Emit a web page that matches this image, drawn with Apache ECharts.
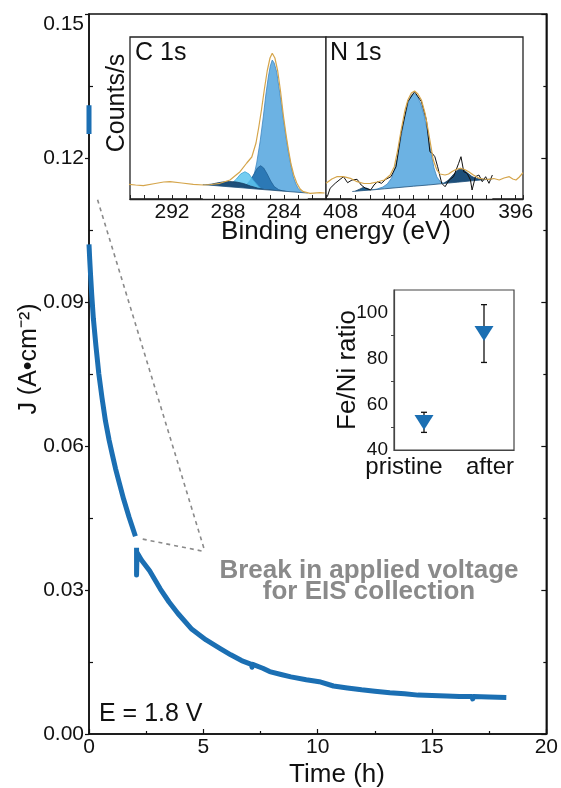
<!DOCTYPE html>
<html>
<head>
<meta charset="utf-8">
<script src="https://cdn.jsdelivr.net/npm/echarts@6/dist/echarts.min.js"></script>
<style>
  html, body { margin: 0; padding: 0; background: #fff; }
  #chart { width: 561px; height: 788px; }
</style>
</head>
<body>
<div id="chart"></div>
<script>
// ---- Chronoamperometry at E = 1.8 V ----
// initial transient recorded at t = 0
const spikeTime = [0, 0];
const spikeCurrent = [0.131, 0.125];

// current density before the EIS break (h, A/cm2)
const timeBefore = [0, 0.03, 0.07, 0.12, 0.19, 0.3, 0.43, 0.57, 0.72, 0.88, 1.02, 1.16, 1.33, 1.51, 1.75, 2.03];
const currentBefore = [0.1020, 0.0990, 0.0955, 0.0915, 0.0866, 0.0810, 0.0750, 0.0700, 0.0652, 0.0612, 0.0582, 0.0553, 0.0522, 0.0490, 0.0452, 0.0412];

// current density after the EIS break
const timeAfter = [2.08, 2.08, 2.1, 2.3, 2.65, 3.12, 3.5, 3.89, 4.5, 5.12, 5.74, 6.2, 6.67, 7.1, 7.13, 7.16, 7.6, 7.9, 8.4, 8.83, 9.5, 10.07, 10.69, 11.3, 11.92, 12.5, 13.16, 13.8, 14.39, 15.0, 15.63, 16.2, 16.75, 16.78, 16.81, 17.5, 18.25];
const currentAfter = [0.0388, 0.0331, 0.0378, 0.0362, 0.0340, 0.0302, 0.0275, 0.0251, 0.0218, 0.0196, 0.0178, 0.0165, 0.0153, 0.0145, 0.0139, 0.0145, 0.0137, 0.0130, 0.0124, 0.0119, 0.0113, 0.0109, 0.0100, 0.0096, 0.0092, 0.0089, 0.0086, 0.0084, 0.0081, 0.0080, 0.0079, 0.0078, 0.0078, 0.0073, 0.0078, 0.0077, 0.0076];

// dashed guide around the break (time h, current A/cm2)
const guideFar = [0.375, 0.1113];
const guideNear = [2.35, 0.0406];
const guideTip = [5.07, 0.038];

// ---- XPS, C 1s (binding energy eV, counts a.u.) ----
const c1sEnvEnergy = [295.1, 294.6, 294.05, 293.2, 292.6, 292.14, 291.3, 290.48, 289.76, 289.2, 288.57, 287.86, 287.14, 286.66, 286.3, 286.0, 285.8, 285.6, 285.4, 285.2, 285.0, 284.84, 284.65, 284.45, 284.25, 284.05, 283.85, 283.69, 283.5, 283.3, 283.09, 282.85, 282.62, 282.14, 281.43, 281.1];
const c1sEnvCounts = [14.7, 14.0, 13.3, 15.5, 17.0, 17.3, 16.0, 14.7, 14.0, 14.5, 15.7, 19.0, 27.3, 36.0, 42.0, 56.0, 72.0, 90.0, 110.0, 128.0, 141.0, 145.7, 141.0, 128.0, 108.0, 84.0, 64.0, 50.0, 35.0, 24.0, 16.0, 10.0, 7.3, 5.7, 6.3, 6.0];

const c1sMainEnergy = [286.9, 286.5, 286.2, 285.95, 285.7, 285.48, 285.3, 285.12, 284.98, 284.84, 284.7, 284.52, 284.29, 284.05, 283.85, 283.69, 283.5, 283.33, 283.15, 282.98, 282.74, 282.5];
const c1sMainCounts = [11.0, 13.0, 20.0, 36.0, 58.0, 82.0, 104.0, 122.0, 133.0, 139.0, 136.0, 127.0, 105.0, 80.0, 61.0, 47.0, 33.0, 22.0, 15.0, 10.5, 7.0, 6.2];

const c1sMidEnergy = [287.0, 286.7, 286.4, 286.1, 285.9, 285.67, 285.45, 285.2, 284.95, 284.7, 284.4, 284.1, 283.8];
const c1sMidCounts = [11.3, 14.0, 19.0, 26.0, 31.0, 33.3, 31.0, 25.0, 18.0, 12.5, 9.5, 8.0, 7.5];

const c1sOxEnergy = [288.0, 287.7, 287.4, 287.1, 286.79, 286.5, 286.2, 285.9, 285.6];
const c1sOxCounts = [12.4, 16.0, 20.0, 25.0, 27.3, 25.0, 19.0, 14.0, 9.8];

const c1sCarbEnergy = [289.6, 289.2, 288.8, 288.4, 287.9, 287.4, 286.9, 286.4, 285.9, 285.4, 284.9, 284.4, 283.9];
const c1sCarbCounts = [14.2, 14.8, 16.0, 17.0, 17.5, 17.0, 15.5, 13.0, 11.0, 9.5, 8.8, 8.2, 7.6];

const c1sBgEnergy = [289.8, 289.0, 288.0, 287.0, 286.0, 285.0, 284.0, 283.0, 282.3];
const c1sBgCounts = [14.4, 13.5, 12.3, 11.2, 10.0, 8.9, 7.8, 6.7, 6.0];

// ---- XPS, N 1s ----
const n1sRawEnergy = [408.91, 408.72, 408.37, 408.03, 407.8, 407.52, 407.22, 406.87, 406.59, 406.29, 405.94, 405.71, 405.47, 405.2, 404.9, 404.55, 404.2, 403.85, 403.39, 402.93, 402.46, 402.12, 401.88, 401.72, 401.54, 401.35, 401.07, 400.84, 400.56, 400.26, 399.91, 399.75, 399.56, 399.33, 399.1, 398.99, 398.76, 398.52, 398.29, 398.06, 397.83, 397.6];
const n1sRawCounts = [2.3, 10.7, 15.7, 19.7, 22.3, 16.3, 19.0, 19.7, 14.0, 10.7, 9.0, 14.0, 17.3, 15.7, 19.7, 22.3, 32.3, 65.7, 97.3, 107.3, 97.3, 79.0, 47.3, 45.7, 42.3, 32.3, 15.7, 12.3, 19.0, 22.3, 35.7, 42.3, 27.3, 25.7, 19.0, 9.0, 22.3, 24.0, 17.3, 22.3, 15.7, 24.0];

const n1sEnvEnergy = [409.0, 408.6, 408.26, 407.8, 407.33, 406.87, 406.4, 405.94, 405.5, 405.01, 404.6, 404.32, 404.1, 403.85, 403.6, 403.39, 403.15, 402.93, 402.7, 402.46, 402.2, 402.0, 401.8, 401.65, 401.4, 401.19, 400.84, 400.6, 400.38, 400.1, 399.8, 399.5, 399.22, 398.9, 398.52, 398.2, 397.83, 397.5, 397.13, 396.8, 396.44, 396.2, 395.98, 395.75, 395.5];
const n1sEnvCounts = [15.7, 20.0, 22.3, 22.3, 20.7, 17.3, 15.5, 15.7, 17.0, 19.0, 24.0, 32.3, 48.0, 69.0, 88.0, 99.0, 106.0, 108.0, 105.0, 99.0, 85.0, 69.0, 52.0, 39.0, 29.0, 25.0, 24.0, 25.0, 27.3, 29.5, 30.7, 29.5, 27.3, 24.0, 20.7, 20.0, 19.7, 20.5, 19.0, 21.0, 22.3, 20.0, 19.0, 22.0, 26.3];

const n1sMainEnergy = [405.9, 405.5, 405.1, 404.8, 404.5, 404.3, 404.1, 403.85, 403.6, 403.35, 403.15, 402.98, 402.75, 402.5, 402.25, 402.0, 401.8, 401.6, 401.4, 401.15, 400.9, 400.5];
const n1sMainCounts = [9.0, 10.0, 12.0, 15.0, 21.0, 30.0, 42.0, 62.0, 82.0, 97.0, 104.0, 105.7, 103.0, 95.0, 82.0, 64.0, 46.0, 31.0, 22.0, 17.0, 15.8, 16.3];

const n1sLowEnergy = [400.95, 400.6, 400.3, 400.0, 399.8, 399.55, 399.3, 399.0, 398.7, 398.3, 398.0];
const n1sLowCounts = [15.5, 19.0, 24.0, 28.5, 30.7, 29.0, 26.0, 22.5, 20.5, 19.8, 19.5];

const n1sHighEnergy = [407.0, 406.7, 406.45, 406.2, 405.95];
const n1sHighCounts = [7.8, 9.8, 11.5, 10.8, 9.2];

const n1sBgEnergy = [407.2, 406.4, 405.9, 405.0, 404.0, 403.0, 402.0, 401.0, 400.0, 399.0, 398.0, 397.6];
const n1sBgCounts = [7.5, 8.5, 9.0, 10.2, 11.5, 12.8, 14.0, 15.4, 16.8, 18.2, 19.5, 20.0];

// ---- Fe/Ni ratio ----
const feNiSamples = ['pristine', 'after'];
const feNiRatio = [52, 91];
const feNiLow = [47.7, 78.3];
const feNiHigh = [56.5, 103.6];

// ticks
const mainTimeTicks = { min: 0, max: 20, step: 5 };
const mainCurrentTicks = { min: 0, max: 0.15, step: 0.03 };

const FONT = 'Liberation Sans, Arial, Helvetica, sans-serif';
const BLUE = '#1b6fb3';
const INK = '#111';

const pairs = (xs, ys) => xs.map((x, i) => [x, ys[i]]);

const chart = echarts.init(document.getElementById('chart'), null, { renderer: 'canvas' });

function fillSeries(name, grid, xs, ys, color, edge, z, opacity) {
  return {
    name, type: 'line', xAxisIndex: grid, yAxisIndex: grid + 2,
    data: pairs(xs, ys), showSymbol: false, silent: true, z,
    lineStyle: { width: 0.8, color: edge },
    areaStyle: { color, opacity: opacity == null ? 1 : opacity }
  };
}

const option = {
  animation: false,
  backgroundColor: '#fff',
  textStyle: { fontFamily: FONT },
  grid: [
    { left: 89, top: 14, width: 464, height: 720, show: true, borderColor: INK, borderWidth: 1.5, backgroundColor: 'transparent' },
    { left: 130, top: 37, width: 196, height: 162, show: true, borderColor: '#222', borderWidth: 1.3, backgroundColor: '#fff' },
    { left: 326, top: 37, width: 197, height: 162, show: true, borderColor: '#222', borderWidth: 1.3, backgroundColor: '#fff' },
    { left: 394, top: 290, width: 120, height: 160, show: true, borderColor: '#444', borderWidth: 1.2, backgroundColor: '#fff' }
  ],
  xAxis: [
    {
      gridIndex: 0, type: 'value', min: mainTimeTicks.min, max: mainTimeTicks.max, interval: mainTimeTicks.step,
      axisLine: { lineStyle: { color: INK, width: 1.5 } },
      axisTick: { inside: true, length: 5, lineStyle: { color: INK, width: 1.2 } },
      minorTick: { show: true, splitNumber: 2, length: 3, lineStyle: { color: INK, width: 1.2 } },
      axisLabel: { fontSize: 21, color: INK, margin: 3, fontFamily: FONT },
      splitLine: { show: false }
    },
    {
      gridIndex: 1, type: 'value', min: 281, max: 295, interval: 1, inverse: true, z: 10,
      axisLine: { lineStyle: { color: '#222', width: 1.3 } },
      axisTick: { inside: true, length: 4, lineStyle: { color: '#222', width: 1 } },
      axisLabel: { fontSize: 21, color: INK, margin: 3, fontFamily: FONT, formatter: v => (v % 4 === 0 ? String(v) : '') },
      splitLine: { show: false }
    },
    {
      gridIndex: 2, type: 'value', min: 395.5, max: 409, splitNumber: 14, inverse: true, z: 10,
      axisLine: { lineStyle: { color: '#222', width: 1.3 } },
      axisTick: { inside: true, length: 4, lineStyle: { color: '#222', width: 1 } },
      axisLabel: { fontSize: 21, color: INK, margin: 3, fontFamily: FONT, formatter: v => (Math.abs(v % 4) < 1e-6 ? String(Math.round(v)) : '') },
      splitLine: { show: false }
    },
    {
      gridIndex: 3, type: 'category', data: feNiSamples, boundaryGap: true,
      axisLine: { lineStyle: { color: '#444', width: 1.2 } },
      axisTick: { show: false },
      axisLabel: {
        interval: 0, hideOverlap: false, fontSize: 24, color: INK, margin: 5, fontFamily: FONT,
        formatter: v => (v === 'pristine' ? '{p|' + v + '}' : '{a|' + v + '}'),
        rich: {
          p: { fontSize: 24, fontFamily: FONT, color: INK, padding: [0, 40, 0, 0] },
          a: { fontSize: 24, fontFamily: FONT, color: INK, padding: [0, 0, 0, 12] }
        }
      }
    }
  ],
  yAxis: [
    {
      gridIndex: 0, type: 'value', position: 'left', min: mainCurrentTicks.min, max: mainCurrentTicks.max, interval: mainCurrentTicks.step,
      axisLine: { show: true, lineStyle: { color: INK, width: 1.5 } },
      axisTick: { inside: false, length: 4, lineStyle: { color: INK, width: 1.2 } },
      axisLabel: { fontSize: 21, color: INK, margin: 5, fontFamily: FONT, formatter: v => v.toFixed(2), verticalAlignMaxLabel: 'top' },
      splitLine: { show: false }
    },
    {
      gridIndex: 0, type: 'value', position: 'left', min: mainCurrentTicks.min, max: mainCurrentTicks.max, interval: mainCurrentTicks.step,
      axisLine: { show: false },
      axisTick: { show: true, inside: true, length: 0.01, lineStyle: { color: INK, width: 1.2 } },
      minorTick: { show: true, splitNumber: 2, length: 4, lineStyle: { color: INK, width: 1.2 } },
      axisLabel: { show: false },
      splitLine: { show: false }
    },
    {
      gridIndex: 0, type: 'value', position: 'right', min: mainCurrentTicks.min, max: mainCurrentTicks.max, interval: mainCurrentTicks.step,
      axisLine: { show: true, lineStyle: { color: INK, width: 1.5 } },
      axisTick: { inside: true, length: 5, lineStyle: { color: INK, width: 1.2 } },
      minorTick: { show: true, splitNumber: 2, length: 3, lineStyle: { color: INK, width: 1.2 } },
      axisLabel: { show: false },
      splitLine: { show: false }
    },
    { gridIndex: 1, type: 'value', min: 0, max: 162, show: false, splitLine: { show: false } },
    { gridIndex: 2, type: 'value', min: 0, max: 162, show: false, splitLine: { show: false } },
    {
      gridIndex: 3, type: 'value', min: 40, max: 110, interval: 20,
      axisLine: { show: true, lineStyle: { color: '#444', width: 1.2 } },
      axisTick: { inside: false, length: 4, lineStyle: { color: '#444', width: 1 } },
      minorTick: { show: true, splitNumber: 2, length: 3, lineStyle: { color: '#444', width: 1 } },
      axisLabel: { fontSize: 19, color: INK, margin: 6, fontFamily: FONT, formatter: v => (v % 20 === 0 ? String(v) : '') },
      splitLine: { show: false }
    }
  ],
  series: [
    // main transient
    {
      name: 'spike', type: 'line', xAxisIndex: 0, yAxisIndex: 0, data: pairs(spikeTime, spikeCurrent),
      showSymbol: false, lineStyle: { color: BLUE, width: 5 }, silent: true
    },
    {
      name: 'before', type: 'line', xAxisIndex: 0, yAxisIndex: 0, data: pairs(timeBefore, currentBefore),
      showSymbol: false, lineStyle: { color: BLUE, width: 5, join: 'round' }, silent: true,
      markLine: {
        silent: true, symbol: 'none', label: { show: false },
        lineStyle: { color: '#8a8a8a', width: 1.6, type: [4, 4] },
        data: [
          [{ coord: guideFar }, { coord: guideTip }],
          [{ coord: guideNear }, { coord: guideTip }]
        ]
      }
    },
    {
      name: 'after', type: 'line', xAxisIndex: 0, yAxisIndex: 0, data: pairs(timeAfter, currentAfter),
      showSymbol: false, lineStyle: { color: BLUE, width: 5, join: 'round' }, silent: true
    },

    // C 1s components
    fillSeries('C-C', 1, c1sMainEnergy, c1sMainCounts, '#6cb2e3', '#3d86c2', 2),
    fillSeries('C-N', 1, c1sMidEnergy, c1sMidCounts, '#2c79b6', '#1f5f95', 3),
    fillSeries('C-O', 1, c1sOxEnergy, c1sOxCounts, '#5cc4ee', '#3aa3d6', 4, 0.85),
    fillSeries('O-C=O', 1, c1sCarbEnergy, c1sCarbCounts, '#1d4f7a', '#173f62', 5),
    {
      name: 'C bg', type: 'line', xAxisIndex: 1, yAxisIndex: 3, data: pairs(c1sBgEnergy, c1sBgCounts),
      showSymbol: false, silent: true, z: 6, lineStyle: { width: 0.8, color: '#1d4f7a' }, areaStyle: { color: '#fff', opacity: 1 }
    },
    {
      name: 'C envelope', type: 'line', xAxisIndex: 1, yAxisIndex: 3, data: pairs(c1sEnvEnergy, c1sEnvCounts),
      showSymbol: false, silent: true, z: 8, lineStyle: { width: 1.2, color: '#d5a54b' }
    },

    // N 1s components
    fillSeries('N graphitic', 2, n1sMainEnergy, n1sMainCounts, '#6cb2e3', '#3d86c2', 2),
    fillSeries('N pyridinic', 2, n1sLowEnergy, n1sLowCounts, '#1d4f7a', '#173f62', 3),
    fillSeries('N oxide', 2, n1sHighEnergy, n1sHighCounts, '#1f5f8f', '#173f62', 4),
    {
      name: 'N bg', type: 'line', xAxisIndex: 2, yAxisIndex: 4, data: pairs(n1sBgEnergy, n1sBgCounts),
      showSymbol: false, silent: true, z: 6, lineStyle: { width: 0.8, color: '#1d4f7a' }, areaStyle: { color: '#fff', opacity: 1 }
    },
    {
      name: 'N raw', type: 'line', xAxisIndex: 2, yAxisIndex: 4, data: pairs(n1sRawEnergy, n1sRawCounts),
      showSymbol: false, silent: true, z: 7, lineStyle: { width: 1, color: '#111' }
    },
    {
      name: 'N envelope', type: 'line', xAxisIndex: 2, yAxisIndex: 4, data: pairs(n1sEnvEnergy, n1sEnvCounts),
      showSymbol: false, silent: true, z: 8, lineStyle: { width: 1.2, color: '#d5a54b' }
    },

    // Fe/Ni ratio
    {
      name: 'Fe/Ni error', type: 'custom', xAxisIndex: 3, yAxisIndex: 5, z: 2, silent: true,
      data: feNiSamples.map((s, i) => [i, feNiLow[i], feNiHigh[i]]),
      encode: { x: 0, y: [1, 2] },
      renderItem: (params, api) => {
        const x = api.value(0);
        const lo = api.coord([x, api.value(1)]);
        const hi = api.coord([x, api.value(2)]);
        const cap = 3;
        const style = { stroke: '#111', lineWidth: 1.3 };
        return {
          type: 'group', children: [
            { type: 'line', shape: { x1: lo[0], y1: lo[1], x2: hi[0], y2: hi[1] }, style },
            { type: 'line', shape: { x1: lo[0] - cap, y1: lo[1], x2: lo[0] + cap, y2: lo[1] }, style },
            { type: 'line', shape: { x1: hi[0] - cap, y1: hi[1], x2: hi[0] + cap, y2: hi[1] }, style }
          ]
        };
      }
    },
    {
      name: 'Fe/Ni', type: 'scatter', xAxisIndex: 3, yAxisIndex: 5, z: 3, silent: true,
      data: feNiRatio, symbol: 'triangle', symbolRotate: 180, symbolSize: [19, 15],
      itemStyle: { color: BLUE, opacity: 1 }
    }
  ],
  graphic: [
    { type: 'text', x: 99, y: 714, silent: true,
      style: { text: 'E = 1.8 V', fontSize: 25, fontFamily: FONT, fill: INK, align: 'left', verticalAlign: 'middle' } },
    { type: 'text', x: 369, y: 581, silent: true,
      style: { text: 'Break in applied voltage\nfor EIS collection', fontSize: 26, fontWeight: 'bold', lineHeight: 21,
               fontFamily: FONT, fill: '#8a8a8a', align: 'center', verticalAlign: 'middle' } },
    { type: 'text', x: 337, y: 775, silent: true,
      style: { text: 'Time (h)', fontSize: 26, fontFamily: FONT, fill: INK, align: 'center', verticalAlign: 'middle' } },
    { type: 'text', x: 29, y: 359, rotation: Math.PI / 2, silent: true,
      style: { text: 'J (A\u2022cm\u207B\u00B2)', fontSize: 25, fontFamily: FONT, fill: INK, align: 'center', verticalAlign: 'middle' } },
    { type: 'text', x: 135, y: 53, silent: true, z: 20,
      style: { text: 'C 1s', fontSize: 25, fontFamily: FONT, fill: INK, align: 'left', verticalAlign: 'middle' } },
    { type: 'text', x: 330, y: 53, silent: true, z: 20,
      style: { text: 'N 1s', fontSize: 25, fontFamily: FONT, fill: INK, align: 'left', verticalAlign: 'middle' } },
    { type: 'text', x: 117, y: 103, rotation: Math.PI / 2, silent: true,
      style: { text: 'Counts/s', fontSize: 25, fontFamily: FONT, fill: INK, align: 'center', verticalAlign: 'middle' } },
    { type: 'text', x: 336, y: 232, silent: true,
      style: { text: 'Binding energy (eV)', fontSize: 26, fontFamily: FONT, fill: INK, align: 'center', verticalAlign: 'middle' } },
    { type: 'text', x: 348, y: 370, rotation: Math.PI / 2, silent: true,
      style: { text: 'Fe/Ni ratio', fontSize: 26, fontFamily: FONT, fill: INK, align: 'center', verticalAlign: 'middle' } }
  ]
};

chart.setOption(option);
</script>
</body>
</html>
